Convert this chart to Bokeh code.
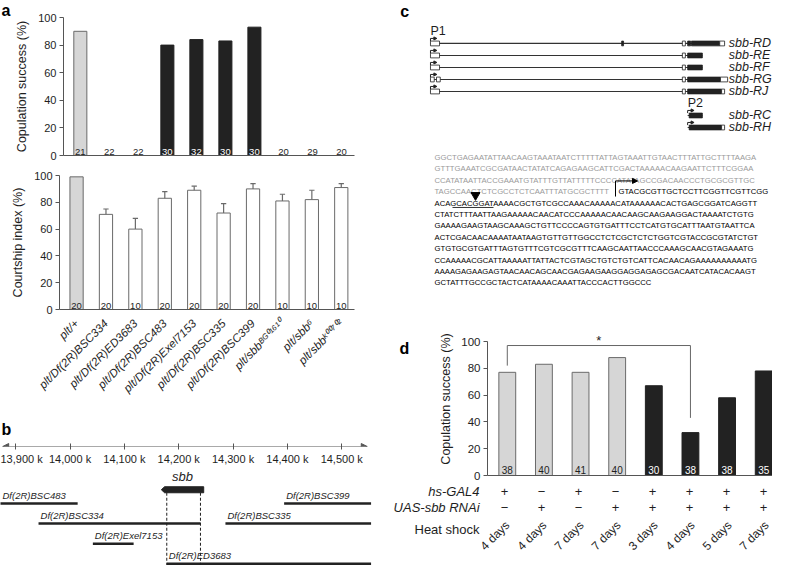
import math
from bokeh.plotting import figure
from bokeh.layouts import row, column
from bokeh.models import Range1d, FixedTicker, Arrow, NormalHead
from bokeh.embed import file_html
from bokeh.resources import INLINE
from bokeh.core.properties import value

FONT = "Liberation Sans"
TXT = "#1e1e1e"
AX = "#555555"
GREY = "#d6d6d6"
GREY_LINE = "#6a6a6a"
BLACK = "#222222"
SEQ_GREY = "#9a9a9a"

# ---------------- panel a data ----------------
genotypes = ["plt/+", "plt/Df(2R)BSC334", "plt/Df(2R)ED3683", "plt/Df(2R)BSC483",
             "plt/Df(2R)Exel7153", "plt/Df(2R)BSC335", "plt/Df(2R)BSC399",
             "plt/sbb\u1d2e\u1d33\u2070\u00b9\u2076\u00b9\u2070", "plt/sbb\u2076",
             "plt/sbb\u1d4f\u2070\u2070\u2077\u2070\u00b2"]
cop_success = [90, 0, 0, 80, 84, 83, 93, 0, 0, 0]
cop_n = [21, 22, 22, 30, 32, 30, 30, 20, 29, 20]
court_index = [99, 71, 60, 83, 89, 72, 90, 81, 82, 91]
court_sem = [0, 4, 8, 5, 3, 7, 4, 5, 7, 3]
court_n = [20, 20, 10, 20, 20, 20, 20, 10, 10, 10]
pct_ticks = [0, 20, 40, 60, 80, 100]

# ---------------- panel b data ----------------
axis_ticks_k = [13900, 14000, 14100, 14200, 14300, 14400, 14500]
axis_extent_k = [13876, 14547]
deficiencies = ["Df(2R)BSC483", "Df(2R)BSC399", "Df(2R)BSC334", "Df(2R)BSC335",
                "Df(2R)Exel7153", "Df(2R)ED3683"]
def_start = [13863, 14394, 13942, 14286, 14042, 14178]
def_end = [14014, 14554, 14240, 14554, 14117, 14554]
def_row = [0, 0, 1, 1, 2, 3]
sbb_gene = [14168, 14246]

# ---------------- panel c data ----------------
transcripts = ["sbb-RD", "sbb-RE", "sbb-RF", "sbb-RG", "sbb-RJ", "sbb-RC", "sbb-RH"]
tx_row = [0, 1, 2, 3, 4, 6, 7]
tx_start = [0, 0, 0, 0, 0, 68.2, 68.2]
tx_end = [78.0, 72.1, 72.1, 78.8, 78.0, 72.1, 78.0]
exon_left = [
    [0, 50.7, 66.8, 68.2, 69.2, 76.7],
    [0, 66.8, 68.2],
    [0, 66.8, 68.2],
    [0, 1.6, 66.8, 68.2, 76.9],
    [0, 66.8, 68.2, 77.2],
    [68.6],
    [68.6, 77.2],
]
exon_right = [
    [2.4, 51.2, 67.6, 69.0, 76.7, 78.0],
    [2.4, 67.6, 72.1],
    [2.4, 67.6, 72.1],
    [1.0, 2.6, 67.6, 76.9, 78.8],
    [2.4, 67.6, 77.2, 78.0],
    [72.1],
    [77.2, 78.0],
]
exon_coding = [
    [False, True, False, True, True, False],
    [False, False, True],
    [False, False, True],
    [False, False, False, True, False],
    [False, False, True, False],
    [True],
    [True, False],
]
promoters = ["P1", "P2"]
promoter_pos = [0, 68.2]
promoter_row = [-1, 5]
seq_lines = [
    "GGCTGAGAATATTAACAAGTAAATAATCTTTTTATTAGTAAATTGTAACTTTATTGCTTTTAAGA",
    "GTTTGAAATCGCGATAACTATATCAGAGAAGCATTCGACTAAAAACAAGAATTCTTTCGGAA",
    "CCATATAATTACCGAAATGTATTTGTTATTTTTCCCCATATAGCCGACAACCCTGCGCGTTGC",
    "TAGCCAACTCTCGCCTCTCAATTTATGCGCTTTT|GTACGCGTTGCTCCTTCGGTTCGTTCGG",
    "ACAGCACGGATAAAACGCTGTCGCCAAACAAAAACATAAAAAACACTGAGCGGATCAGGTT",
    "CTATCTTTAATTAAGAAAAACAACATCCCAAAAACAACAAGCAAGAAGGACTAAAATCTGTG",
    "GAAAAGAAGTAAGCAAAGCTGTTCCCCAGTGTGATTTCCTCATGTGCATTTAATGTAATTCA",
    "ACTCGACAACAAAATAATAAGTGTTGTTGGCCTCTCGCTCTCTGGTCGTACCGCGTATCTGT",
    "GTGTGCGTGATTTAGTGTTTCGTCGCGTTTCAAGCAATTAACCCAAAGCAACGTAGAAATG",
    "CCAAAAACGCATTAAAAATTATTACTCGTAGCTGTCTGTCATTCACAACAGAAAAAAAAAATG",
    "AAAAGAGAAGAGTAACAACAGCAACGAGAAGAAGGAGGAGAGCGACAATCATACACAAGT",
    "GCTATTTGCCGCTACTCATAAAACAAATTACCCACTTGGCCC",
]
n_upstream_lines = 3          # fully grey lines; line 4 is split at "|"

# ---------------- panel d data ----------------
hs_gal4 = ["+", "\u2212", "+", "\u2212", "+", "+", "+", "+"]
uas_rnai = ["\u2212", "+", "\u2212", "+", "+", "+", "+", "+"]
heat_shock = ["4 days", "4 days", "7 days", "7 days", "3 days", "4 days", "5 days", "7 days"]
d_success = [77, 83, 77, 88, 67, 32, 58, 78]
d_n = [38, 40, 41, 40, 30, 38, 38, 35]
sig_pair = [0, 5]
row_labels = ["hs-GAL4", "UAS-sbb RNAi", "Heat shock"]


def base_fig(w, h, xr, yr, mb, x_loc=None, y_loc=None):
    p = figure(width=w, height=h, x_range=xr, y_range=yr, output_backend="svg",
               toolbar_location=None, x_axis_location=x_loc, y_axis_location=y_loc,
               min_border_left=mb[0], min_border_right=mb[1],
               min_border_top=mb[2], min_border_bottom=mb[3])
    p.frame_align = False
    p.outline_line_color = None
    for g in p.grid:
        g.visible = False
    p.background_fill_color = "white"
    p.border_fill_color = "white"
    return p


def style_axes(p, fs="11px", lfs="12.5px"):
    for ax in p.axis:
        ax.axis_line_color = AX
        ax.major_tick_line_color = AX
        ax.minor_tick_line_color = None
        ax.major_label_text_font = FONT
        ax.major_label_text_font_size = fs
        ax.major_label_text_color = TXT
        ax.axis_label_text_font = FONT
        ax.axis_label_text_font_style = "normal"
        ax.axis_label_text_font_size = lfs
        ax.axis_label_text_color = TXT


def letter(p, x, y, t, baseline="alphabetic"):
    p.text(x=[x], y=[y], text=[t], text_font=value(FONT), text_font_size="16px",
           text_font_style="bold", text_color="black", text_baseline=baseline,
           text_align="left")


# ================= panel a (top) =================
xa = list(range(len(genotypes)))
xr_a = Range1d(-0.58, 9.45)
a_letter = base_fig(12, 167, Range1d(0, 12), Range1d(167, 0), (0, 0, 0, 0))
letter(a_letter, 1, 1, "a", baseline="top")

a1 = base_fig(378, 167, xr_a, Range1d(0, 100), (47, 36, 17, 12), "below", "left")
top_fill = [GREY] + [BLACK] * (len(xa) - 1)
top_line = [GREY_LINE] + [BLACK] * (len(xa) - 1)
nz = [i for i, v in enumerate(cop_success) if v > 0]
a1.vbar(x=[xa[i] for i in nz], top=[cop_success[i] for i in nz], width=0.45, bottom=0,
        fill_color=[top_fill[i] for i in nz], line_color=[top_line[i] for i in nz], line_width=1)
cnt_col = ["white" if (cop_success[i] > 0 and top_fill[i] == BLACK) else TXT for i in xa]
a1.text(x=xa, y=[0] * len(xa), text=[str(n) for n in cop_n], text_align="center",
        text_baseline="bottom", y_offset=-1, text_font_size="9.5px",
        text_color=cnt_col, text_font=value(FONT))
style_axes(a1)
a1.yaxis.ticker = FixedTicker(ticks=pct_ticks)
a1.yaxis.major_tick_out = 4
a1.yaxis.major_tick_in = 0
a1.yaxis.major_label_standoff = 3
a1.yaxis.axis_label = "Copulation success (%)"
a1.yaxis.axis_label_standoff = 6
a1.xaxis.ticker = FixedTicker(ticks=xa)
a1.xaxis.major_label_overrides = {i: "" for i in xa}
a1.xaxis.major_tick_line_color = None

# ================= panel a (bottom) =================
a2 = base_fig(390, 250, xr_a, Range1d(0, 100), (59, 36, 8, 108), "below", "left")
bot_fill = [GREY] + ["white"] * (len(xa) - 1)
a2.vbar(x=xa, top=court_index, width=0.45, bottom=0, fill_color=bot_fill,
        line_color=GREY_LINE, line_width=1)
eb = [i for i in xa if court_sem[i] > 0]
a2.segment(x0=[xa[i] for i in eb], y0=[court_index[i] for i in eb],
           x1=[xa[i] for i in eb], y1=[court_index[i] + court_sem[i] for i in eb],
           line_color=GREY_LINE, line_width=1.2)
a2.segment(x0=[xa[i] - 0.09 for i in eb], y0=[court_index[i] + court_sem[i] for i in eb],
           x1=[xa[i] + 0.09 for i in eb], y1=[court_index[i] + court_sem[i] for i in eb],
           line_color=GREY_LINE, line_width=1.2)
a2.text(x=xa, y=[0] * len(xa), text=[str(n) for n in court_n], text_align="center",
        text_baseline="bottom", y_offset=-1, text_font_size="9.5px",
        text_color=TXT, text_font=value(FONT))
style_axes(a2)
a2.yaxis.ticker = FixedTicker(ticks=pct_ticks)
a2.yaxis.major_tick_out = 4
a2.yaxis.major_tick_in = 0
a2.yaxis.major_label_standoff = 3
a2.yaxis.axis_label = "Courtship index (%)"
a2.yaxis.axis_label_standoff = 6
a2.xaxis.ticker = FixedTicker(ticks=xa)
a2.xaxis.major_label_overrides = {i: genotypes[i] for i in xa}
a2.xaxis.major_label_orientation = math.pi / 4
a2.xaxis.major_label_text_font_style = "italic"
a2.xaxis.major_label_text_font_size = "11.5px"
a2.xaxis.major_label_standoff = 6
a2.xaxis.major_tick_line_color = None

# ================= panel b =================
xr_b = Range1d(13872, 14564)
b_ax = base_fig(390, 50, xr_b, Range1d(0, 1), (0, 14, 0, 21), "below", None)
style_axes(b_ax)
b_ax.xaxis.ticker = FixedTicker(ticks=axis_ticks_k)
b_ax.xaxis.major_label_overrides = {t: f"{t:,} k" for t in axis_ticks_k}
b_ax.xaxis.axis_line_color = None
b_ax.xaxis.major_tick_in = 3
b_ax.xaxis.major_tick_out = 3
b_ax.xaxis.major_label_standoff = 3
b_ax.add_layout(Arrow(x_start=axis_extent_k[0], y_start=0, x_end=axis_extent_k[1], y_end=0,
                      start=NormalHead(size=6, fill_color=AX, line_color=AX),
                      end=NormalHead(size=6, fill_color=AX, line_color=AX),
                      line_color=AX, line_width=1))
b_ax.text(x=[xr_b.start], y=[0.88], text=["b"], text_font=value(FONT), text_font_size="16px",
          text_font_style="bold", text_color="black", text_baseline="top", x_offset=1)

b_body = base_fig(390, 98, xr_b, Range1d(3.09, -1.8), (0, 14, 0, 0), None, None)
b_body.segment(x0=def_start, y0=def_row, x1=def_end, y1=def_row, line_color=BLACK, line_width=2.5)
lab_x = [max(s, xr_b.start) for s in def_start]
b_body.text(x=lab_x, y=def_row, text=deficiencies, text_align="left", text_baseline="bottom",
            x_offset=2, y_offset=-3, text_font_size="9.5px", text_font_style="italic",
            text_color=TXT, text_font=value(FONT))
gy, gh = -0.69, 0.15
g0, g1 = sbb_gene
b_body.patch(x=[g0, g0 + 6, g1, g1, g0 + 6], y=[gy, gy - gh, gy - gh, gy + gh, gy + gh],
             fill_color=BLACK, line_color=BLACK)
b_body.text(x=[(g0 + g1) / 2], y=[gy - gh], text=["sbb"], text_align="center",
            text_baseline="bottom", y_offset=-3, text_font_size="13px",
            text_font_style="italic", text_color=TXT, text_font=value(FONT))
dash_x = [def_start[deficiencies.index("Df(2R)ED3683")], def_end[deficiencies.index("Df(2R)BSC334")]]
b_body.segment(x0=dash_x, y0=[gy + gh] * 2, x1=dash_x, y1=[3.09] * 2,
               line_color=TXT, line_width=1, line_dash="3 2")

# ================= panel c (gene models) =================
xr_c = Range1d(-10.6, 90.7)
c_gene = base_fig(382, 142, xr_c, Range1d(8.25, -3.58), (0, 0, 0, 0), None, None)
c_gene.segment(x0=tx_start, y0=tx_row, x1=tx_end, y1=tx_row, line_color="#333333", line_width=1.2)
ql, qr, qt, qb, qf = [], [], [], [], []
for k in range(len(transcripts)):
    for l, r, cd in zip(exon_left[k], exon_right[k], exon_coding[k]):
        ql.append(l); qr.append(r)
        qt.append(tx_row[k] - 0.2); qb.append(tx_row[k] + 0.2)
        qf.append(BLACK if cd else "white")
c_gene.quad(left=ql, right=qr, top=qt, bottom=qb, fill_color=qf, line_color=BLACK, line_width=0.8)
for k in range(len(transcripts)):
    s, r = tx_start[k], tx_row[k]
    c_gene.line(x=[s, s], y=[r - 0.2, r - 0.42], line_color=BLACK, line_width=1)
    c_gene.add_layout(Arrow(x_start=s, y_start=r - 0.42, x_end=s + 1.7, y_end=r - 0.42,
                            end=NormalHead(size=3, fill_color=BLACK, line_color=BLACK),
                            line_color=BLACK, line_width=1))
c_gene.text(x=promoter_pos, y=promoter_row, text=promoters, text_align="left",
            text_baseline="middle", text_font_size="12.5px", text_color=TXT, text_font=value(FONT))
c_gene.text(x=[79.1] * len(transcripts), y=tx_row, text=transcripts, text_align="left",
            text_baseline="middle", text_font_size="12.5px", text_font_style="italic",
            text_color=TXT, text_font=value(FONT))
letter(c_gene, -8.0, -3.4, "c", baseline="top")

# ================= panel c (sequence) =================
xr_s = Range1d(-44, 338)
c_seq = base_fig(382, 180, xr_s, Range1d(14.47, -1.32), (0, 0, 0, 0), None, None)
seq_x, seq_y, seq_t, seq_c = [], [], [], []
split_x = 184
for i, ln in enumerate(seq_lines):
    if "|" in ln:
        up, down = ln.split("|")
        seq_x += [0, split_x]; seq_y += [i, i]; seq_t += [up, down]; seq_c += [SEQ_GREY, "black"]
    else:
        seq_x.append(0); seq_y.append(i); seq_t.append(ln)
        seq_c.append(SEQ_GREY if i < n_upstream_lines else "black")
c_seq.text(x=seq_x, y=seq_y, text=seq_t, text_color=seq_c, text_align="left",
           text_baseline="middle", text_font_size="7.7px", text_font=value(FONT))
c_seq.line(x=[split_x - 3, split_x - 3], y=[3.42, 2.05], line_color="black", line_width=1)
c_seq.add_layout(Arrow(x_start=split_x - 3, y_start=2.05, x_end=split_x + 19, y_end=2.05,
                       end=NormalHead(size=5, fill_color="black", line_color="black"),
                       line_color="black", line_width=1))
c_seq.scatter(x=[41], y=[3.3], marker="inverted_triangle", size=9, fill_color="black",
              line_color="black")
c_seq.line(x=[18, 59], y=[4.38, 4.38], line_color="black", line_width=0.8)

# ================= panel d =================
xd = list(range(len(d_success)))
PX = 37.0           # px per bar slot
PY = 1.34           # px per percent
xr_d = Range1d(-0.54, 7.24)
d_letter = base_fig(46, 159, Range1d(0, 46), Range1d(159, 0), (0, 0, 0, 0))
letter(d_letter, 9, 26, "d")

d_top = base_fig(336, 159, xr_d, Range1d(0, 153 / PY), (48, 0, 0, 6), "below", "left")
d_fill = [BLACK if (hs_gal4[i] == "+" and uas_rnai[i] == "+") else GREY for i in xd]
d_line = [BLACK if f == BLACK else GREY_LINE for f in d_fill]
d_top.vbar(x=xd, top=d_success, width=0.46, bottom=0, fill_color=d_fill, line_color=d_line,
           line_width=1)
d_top.text(x=xd, y=[0] * len(xd), text=[str(n) for n in d_n], text_align="center",
           text_baseline="bottom", y_offset=-2, text_font_size="10px",
           text_color=["white" if f == BLACK else TXT for f in d_fill], text_font=value(FONT))
i0, i1 = sig_pair
d_top.line(x=[i0, i0, i1, i1], y=[d_success[i0] + 5, 97, 97, d_success[i1] + 11],
           line_color="#666666", line_width=1)
d_top.text(x=[(i0 + i1) / 2], y=[97], text=["*"], text_align="center", text_baseline="bottom",
           y_offset=2, text_font_size="13px", text_color=TXT, text_font=value(FONT))
style_axes(d_top, "11.5px", "12.5px")
d_top.yaxis.bounds = (0, 100)
d_top.yaxis.ticker = FixedTicker(ticks=pct_ticks)
d_top.yaxis.major_tick_out = 4
d_top.yaxis.major_tick_in = 0
d_top.yaxis.major_label_standoff = 3
d_top.yaxis.axis_label = "Copulation success (%)"
d_top.yaxis.axis_label_standoff = 5
d_top.xaxis.ticker = FixedTicker(ticks=[])
d_top.xaxis.major_tick_line_color = None

# lower strip of panel d: genotype rows and heat-shock labels
xr_db = Range1d(-0.54 - 94 / PX, 7.24)
d_bot = base_fig(382, 84, xr_db, Range1d(-6 / PY - 84 / PY, -6 / PY), (0, 0, 0, 0))
d_bot.text(x=xd, y=[-12] * len(xd), text=hs_gal4, text_align="center", text_baseline="middle",
           text_font_size="13px", text_color=TXT, text_font=value(FONT))
d_bot.text(x=xd, y=[-24] * len(xd), text=uas_rnai, text_align="center", text_baseline="middle",
           text_font_size="13px", text_color=TXT, text_font=value(FONT))
d_bot.text(x=[-5 / PX - 0.54] * 3, y=[-12, -24, -40.3], text=row_labels, text_align="right",
           text_baseline="middle", text_font_size="13px",
           text_font_style=["italic", "italic", "normal"], text_color=TXT, text_font=value(FONT))
d_bot.text(x=xd, y=[-35.5] * len(xd), text=heat_shock, angle=math.pi / 4, text_align="right",
           text_baseline="middle", x_offset=3, text_font_size="12px", text_color=TXT,
           text_font=value(FONT))

layout = row(column(row(a_letter, a1), a2, b_ax, b_body),
             column(c_gene, c_seq, row(d_letter, d_top), d_bot))
open("out.html", "w").write(file_html(layout, INLINE))
